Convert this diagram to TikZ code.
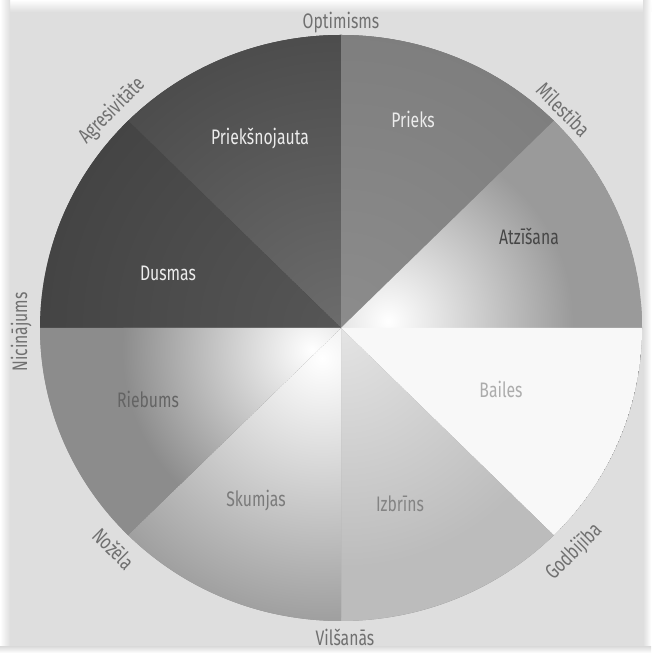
\documentclass[tikz,border=0pt]{standalone}
\usepackage{fontspec}
\setmainfont{Fira Sans}
\newfontfamily\condfont[FakeStretch=0.75]{Fira Sans}
\definecolor{bg}{RGB}{222,222,222}
\definecolor{outc}{RGB}{112,112,112}
\definecolor{cPn}{RGB}{76,76,76}
\definecolor{cPnIn}{RGB}{108,108,108}
\definecolor{cDu}{RGB}{68,68,68}
\definecolor{cDuIn}{RGB}{86,86,86}
\definecolor{cPr}{RGB}{126,126,126}
\definecolor{cPrIn}{RGB}{140,140,140}
\definecolor{cAt}{RGB}{154,154,154}
\definecolor{cBa}{RGB}{248,248,248}
\definecolor{cIz}{RGB}{188,188,188}
\definecolor{cIzIn}{RGB}{228,228,228}
\definecolor{cSk}{RGB}{160,160,160}
\definecolor{cRi}{RGB}{140,140,140}
\definecolor{tWhite}{RGB}{236,236,236}
\definecolor{tAt}{RGB}{70,70,70}
\definecolor{tRi}{RGB}{100,100,100}
\definecolor{tSk}{RGB}{122,122,122}
\definecolor{tIz}{RGB}{132,132,132}
\definecolor{tBa}{RGB}{172,172,172}
\newcommand\wedgepath[2]{(341,325) -- ++({301*cos(#1)},{293*sin(#1)}) arc[start angle=#1,end angle=#2,x radius=301,y radius=293] -- cycle}
\tikzset{
  lab/.style={font=\condfont\fontsize{21}{24}\selectfont, text height=14.5pt, text depth=0pt, inner sep=0pt, anchor=center},
  outerlab/.style={lab, text=outc}
}
\begin{document}
\begin{tikzpicture}[x=1pt,y=1pt]
\useasboundingbox (0,0) rectangle (651,653);
\fill[bg] (0,0) rectangle (651,653);
\shade[top color=white, bottom color=bg] (0,641) rectangle (651,653);
\shade[left color=white, right color=bg] (0,0) rectangle (10,653);
\shade[left color=bg, right color=white] (643,0) rectangle (651,653);
\shade[top color=bg, bottom color=white] (0,0) rectangle (651,6);
% base disc
\fill[cRi] (341,325) ellipse [x radius=301, y radius=293];
% Priekšnojauta 90..135
\begin{scope}
  \clip \wedgepath{90}{135};
  \fill[cPn] \wedgepath{90}{135};
  \shade[inner color=cPnIn, outer color=cPn] (341,325) circle (300);
\end{scope}
% Dusmas 135..180
\begin{scope}
  \clip \wedgepath{135}{180};
  \fill[cDu] \wedgepath{135}{180};
  \shade[inner color=cDuIn, outer color=cDu] (341,325) circle (300);
\end{scope}
% Prieks 45..90
\begin{scope}
  \clip \wedgepath{45}{90};
  \fill[cPr] \wedgepath{45}{90};
  \shade[inner color=cPrIn, outer color=cPr] (341,325) circle (300);
\end{scope}
% Atzīšana 0..45
\begin{scope}
  \clip \wedgepath{0}{45};
  \fill[cAt] \wedgepath{0}{45};
  \shade[inner color=white, outer color=cAt] (388,332) circle (185);
\end{scope}
% Bailes -45..0
\begin{scope}
  \clip \wedgepath{-45}{0};
  \fill[cBa] \wedgepath{-45}{0};
\end{scope}
% Izbrīns -90..-45
\begin{scope}
  \clip \wedgepath{-90}{-45};
  \fill[cIz] \wedgepath{-90}{-45};
  \shade[inner color=cIzIn, outer color=cIz] (341,325) circle (240);
\end{scope}
% Skumjas 225..270
\begin{scope}
  \clip \wedgepath{225}{270};
  \fill[cSk] \wedgepath{225}{270};
  \shade[inner color=white, outer color=cSk] (322,295) circle (260);
\end{scope}
% Riebums 180..225
\begin{scope}
  \clip \wedgepath{180}{225};
  \fill[cRi] \wedgepath{180}{225};
  \shade[inner color=white, outer color=cRi] (312,303) circle (190);
\end{scope}
% inner labels
\node[lab, text=tWhite] (priek) at (260,516) {Priekšnojauta};
\node[lab, text=tWhite] (prieks) at (413,533) {Prieks};
\node[lab, text=tAt] (atz) at (529,416) {Atzīšana};
\node[lab, text=tWhite] (dus) at (168,380) {Dusmas};
\node[lab, text=tRi] (rie) at (148,253) {Riebums};
\node[lab, text=tSk] (sku) at (256,154) {Skumjas};
\node[lab, text=tIz] (izb) at (400,149) {Izbrīns};
\node[lab, text=tBa] (bai) at (501,263) {Bailes};
% outer labels
\node[outerlab] (opt) at (341,632) {Optimisms};
\node[outerlab] (vil) at (345,15) {Vilšanās};
\node[outerlab, rotate=-45] (mil) at (563,543) {Mīlestība};
\node[outerlab, rotate=45] (agr) at (111,543) {Agresivitāte};
\node[outerlab, rotate=90] (nic) at (20,321) {Nicinājums};
\node[outerlab, rotate=45] (god) at (573,102) {Godbijība};
\node[outerlab, rotate=-45] (noz) at (113,104) {Nožēla};
\end{tikzpicture}
\end{document}
